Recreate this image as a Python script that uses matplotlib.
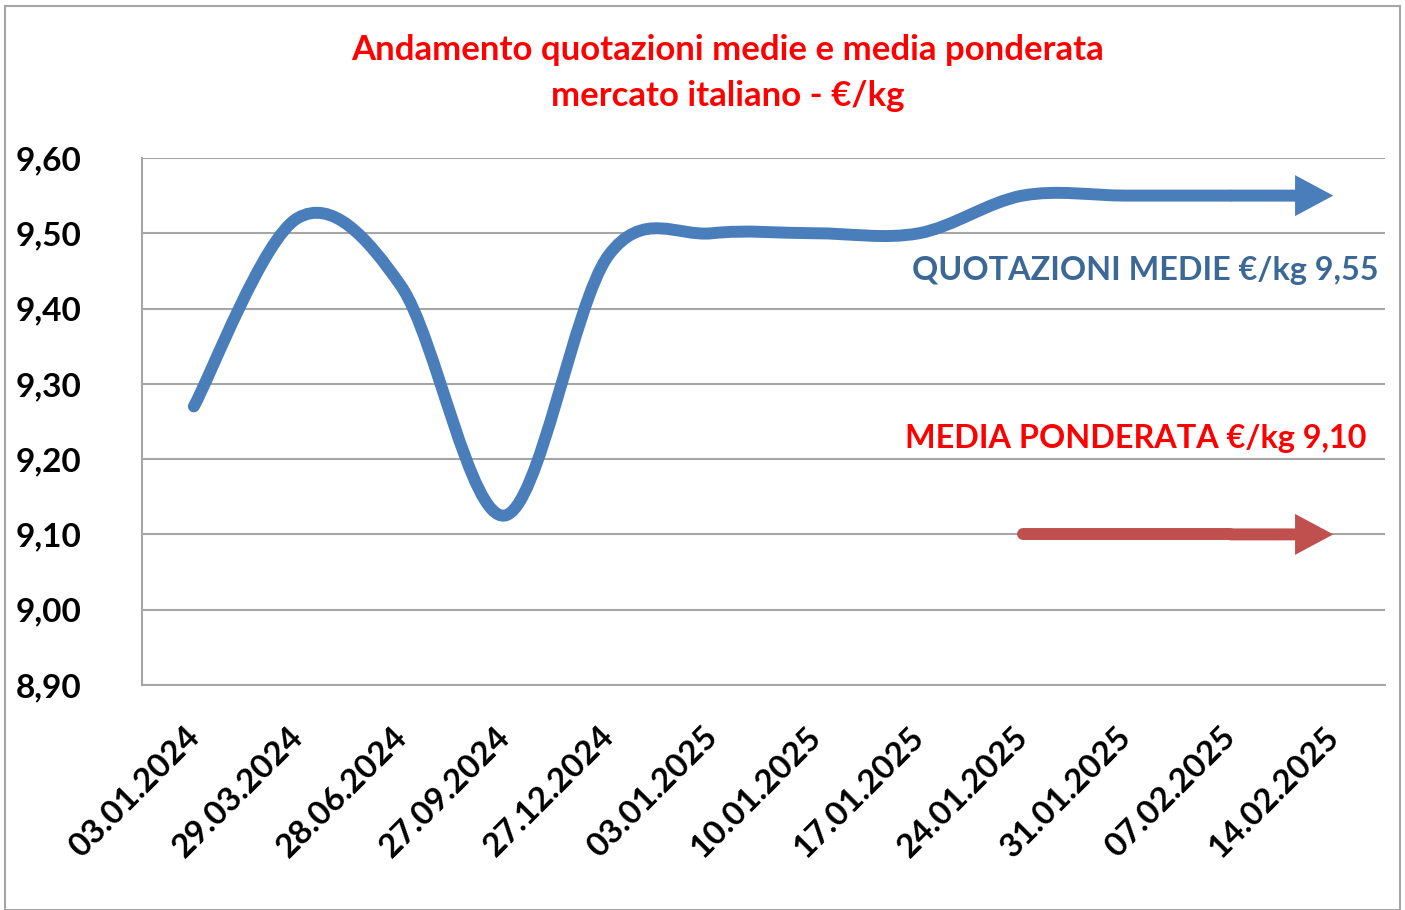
import numpy as np
import matplotlib.pyplot as plt
import matplotlib.transforms as mtransforms
from matplotlib.path import Path
from matplotlib.patches import PathPatch, Rectangle, FancyArrowPatch, ArrowStyle

plt.rcParams['font.family'] = ['Lato', 'DejaVu Sans']

# data
dates = ['03.01.2024', '29.03.2024', '28.06.2024', '27.09.2024', '27.12.2024',
         '03.01.2025', '10.01.2025', '17.01.2025', '24.01.2025', '31.01.2025',
         '07.02.2025', '14.02.2025']
quotazioni = [9.27, 9.52, 9.43, 9.125, 9.47, 9.50, 9.50, 9.50, 9.55, 9.55, 9.55, 9.55]
media_ponderata = [np.nan] * 8 + [9.10, 9.10, 9.10, 9.10]
yticks = [8.90, 9.00, 9.10, 9.20, 9.30, 9.40, 9.50, 9.60]

blue = '#4A7EBB'
red = '#C0504D'
lw = 8.6


def smooth_path(xs, ys):
    # Excel-like smoothed line: Catmull-Rom segments as cubic beziers
    pts = np.column_stack([xs, ys])
    n = len(pts)
    verts = [pts[0]]
    codes = [Path.MOVETO]
    for i in range(n - 1):
        p0 = pts[max(i - 1, 0)]
        p1 = pts[i]
        p2 = pts[i + 1]
        p3 = pts[min(i + 2, n - 1)]
        c1 = p1 + (p2 - p0) / 6
        c2 = p2 - (p3 - p1) / 6
        verts += [c1, c2, p2]
        codes += [Path.CURVE4] * 3
    return Path(verts, codes)


def arrow_end(ax, p_from, p_to, color):
    style = ArrowStyle.Simple(head_length=2.75, head_width=2.95, tail_width=0.86)
    ax.add_patch(FancyArrowPatch(p_from, p_to, arrowstyle=style, mutation_scale=10,
                                 color=color, lw=0, shrinkA=0, shrinkB=0, zorder=3))


fig = plt.figure(figsize=(14.05, 9.10), dpi=100)
ax = fig.add_axes([0.1011, 0.2473, 0.8847, 0.5791])

x = np.arange(len(dates))

# blue smoothed line, last segment drawn as arrow
ax.add_patch(PathPatch(smooth_path(x[:-1], quotazioni[:-1]), facecolor='none', edgecolor=blue,
                       lw=lw, capstyle='round', joinstyle='round', zorder=3))
arrow_end(ax, (x[-2], quotazioni[-2]), (x[-1], quotazioni[-1]), blue)

# red line
mp = np.array(media_ponderata)
ok = np.where(~np.isnan(mp))[0]
ax.plot(x[ok[:-1]], mp[ok[:-1]], color=red, lw=lw, solid_capstyle='round', zorder=3)
arrow_end(ax, (x[-2], mp[-2]), (x[-1], mp[-1]), red)

ax.set_xlim(-0.5, len(dates) - 0.5)
ax.set_ylim(8.90, 9.60)
ax.set_yticks(yticks)
ax.set_yticklabels([f'{v:.2f}'.replace('.', ',') for v in yticks],
                   fontsize=24, fontweight='bold')
ax.set_xticks(x)
ax.set_xticklabels(dates, rotation=45, ha='right', va='center', rotation_mode='anchor',
                   fontsize=24, fontweight='bold')
ax.tick_params(axis='both', length=0)
ax.tick_params(axis='y', pad=91)
ax.tick_params(axis='x', pad=30)
for lab in ax.get_yticklabels():
    lab.set_horizontalalignment('left')
off = mtransforms.ScaledTranslation(1 / 100, -5 / 100, fig.dpi_scale_trans)
for lab in ax.get_xticklabels():
    lab.set_transform(lab.get_transform() + off)

ax.grid(axis='y', color='#A6A6A6', lw=1.5)
ax.set_axisbelow(True)
for s in ['top', 'right']:
    ax.spines[s].set_visible(False)
for s in ['left', 'bottom']:
    ax.spines[s].set_color('#A6A6A6')
    ax.spines[s].set_linewidth(1.5)

fig.text(0.518, 0.945, 'Andamento quotazioni medie e media ponderata', color='#FF0000',
         fontsize=25, fontweight='bold', ha='center', va='center')
fig.text(0.518, 0.894, 'mercato italiano - €/kg', color='#FF0000',
         fontsize=25, fontweight='bold', ha='center', va='center')

ax.text(0.995, 0.787, 'QUOTAZIONI MEDIE €/kg 9,55', transform=ax.transAxes,
        color='#3C6896', fontsize=23.3, fontweight='bold', ha='right', va='center')
ax.text(0.985, 0.468, 'MEDIA PONDERATA €/kg 9,10', transform=ax.transAxes,
        color='#FF0000', fontsize=23.3, fontweight='bold', ha='right', va='center')

fig.patches.append(Rectangle((5 / 1405, 0), 1395 / 1405, 904 / 910, transform=fig.transFigure,
                             fill=False, edgecolor='#A6A6A6', lw=1.5))

fig.savefig('out.png', dpi=100)
